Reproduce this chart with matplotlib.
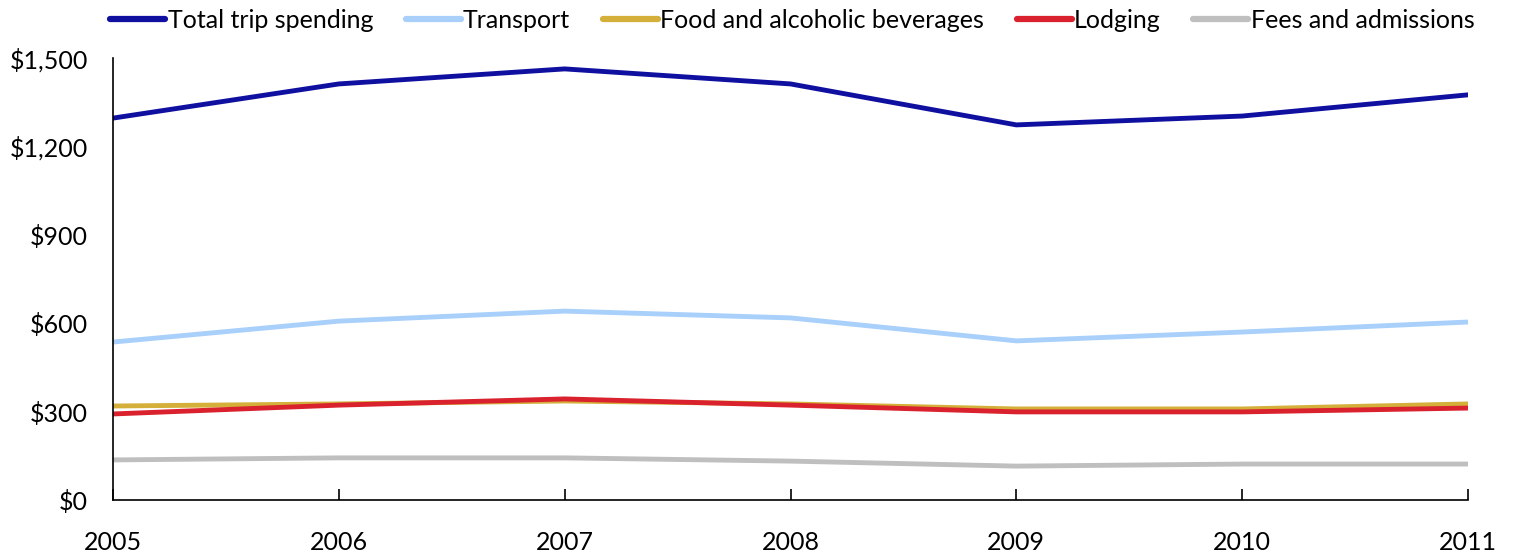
import matplotlib.pyplot as plt
from matplotlib.ticker import FuncFormatter

years = [2005, 2006, 2007, 2008, 2009, 2010, 2011]
total = [1296, 1412, 1463, 1412, 1273, 1303, 1375]
transport = [536, 607, 641, 618, 540, 570, 604]
food = [319, 326, 336, 326, 309, 309, 326]
lodging = [292, 322, 343, 322, 299, 299, 312]
fees = [136, 143, 143, 132, 115, 122, 122]

series = [
    ("Total trip spending", total, "#1010a0"),
    ("Transport", transport, "#a8d0fa"),
    ("Food and alcoholic beverages", food, "#d4b03a"),
    ("Lodging", lodging, "#d9222e"),
    ("Fees and admissions", fees, "#bfbfbf"),
]

plt.rcParams['font.family'] = ['Lato', 'DejaVu Sans']

fig = plt.figure(figsize=(15.15, 5.52), dpi=100)
ax = fig.add_axes([113 / 1515, 52 / 552, 1355 / 1515, 442 / 552])

for name, vals, col in series:
    ax.plot(years, vals, color=col, lw=3.5, label=name, solid_capstyle='round')

ax.set_xlim(2005, 2011)
ax.set_ylim(0, 1500)
ax.set_yticks(range(0, 1501, 300))
ax.yaxis.set_major_formatter(FuncFormatter(lambda v, p: "${:,.0f}".format(v)))
ax.set_xticks(years)
ax.tick_params(axis='x', direction='in', length=8, width=1.2, labelsize=18, pad=22)
ax.tick_params(axis='y', length=0, labelsize=18, pad=18)

for s in ['top', 'right']:
    ax.spines[s].set_visible(False)
for s in ['left', 'bottom']:
    ax.spines[s].set_linewidth(1.2)

leg = fig.legend(loc='upper center', ncol=5,
                 bbox_to_anchor=(0.523, 1.025), frameon=False, fontsize=18,
                 handlelength=2.2, handletextpad=0.1, columnspacing=1.3)
for ln in leg.get_lines():
    ln.set_linewidth(4.5)

fig.savefig("out.png", dpi=100)
